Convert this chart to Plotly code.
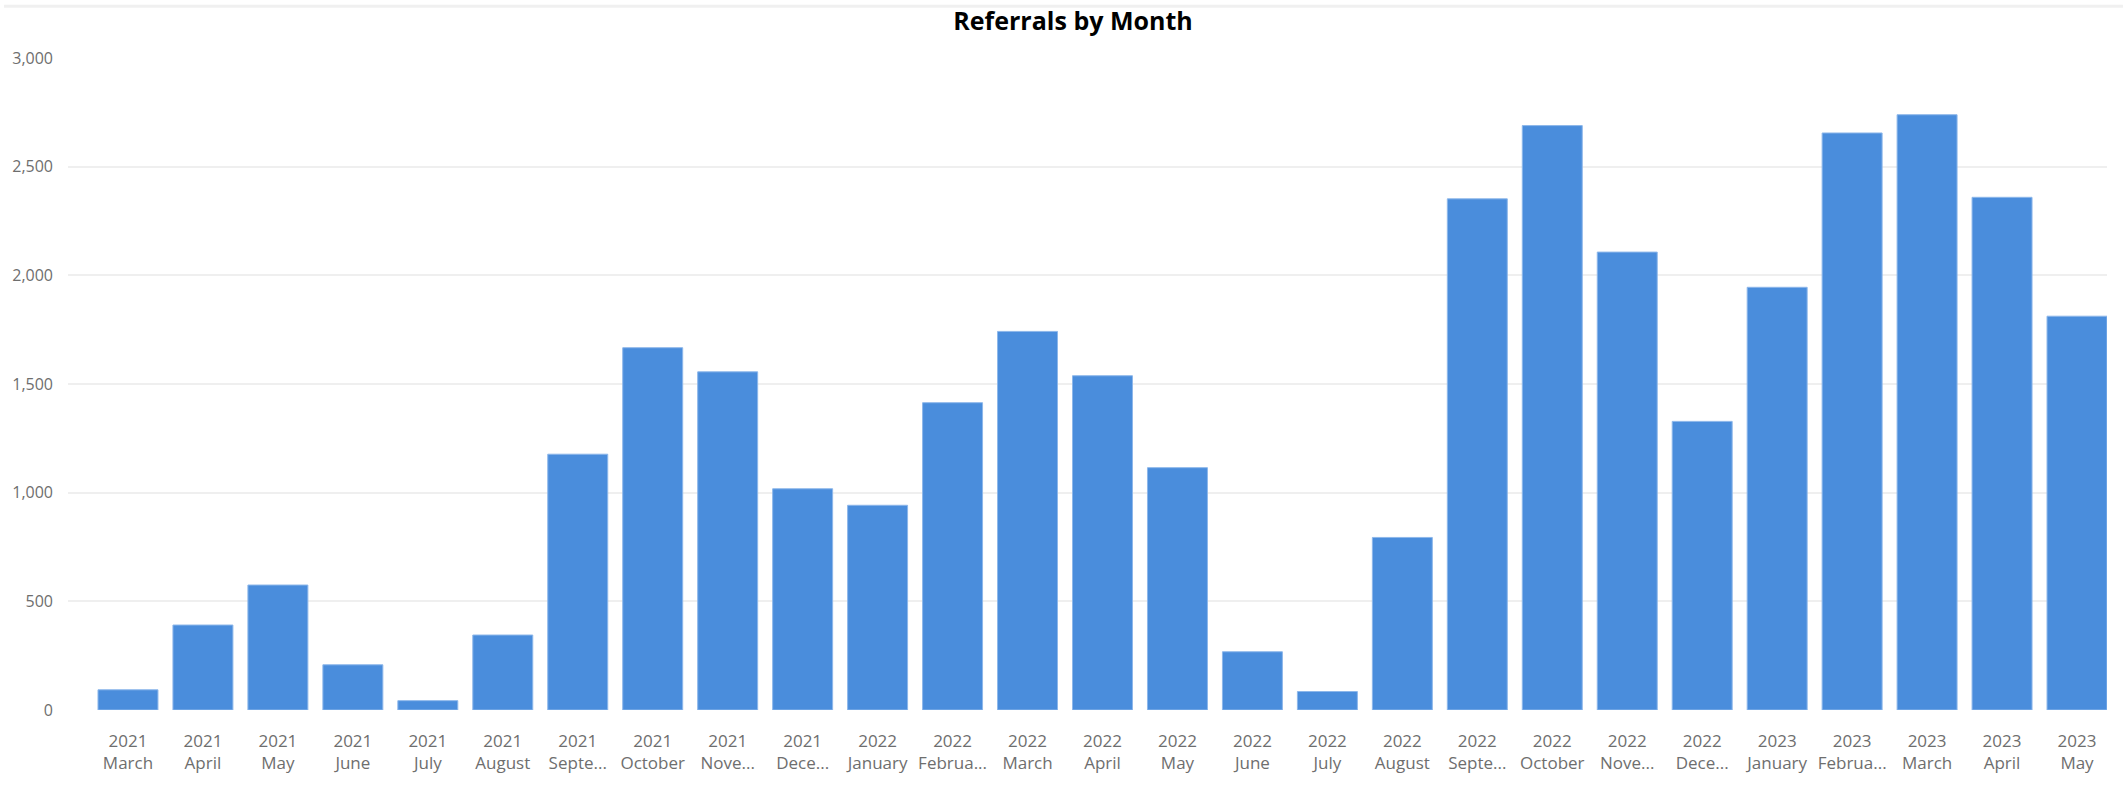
import plotly.graph_objects as go

years = ["2021"] * 10 + ["2022"] * 12 + ["2023"] * 5
months = ["March", "April", "May", "June", "July", "August", "Septe...", "October", "Nove...", "Dece...",
          "January", "Februa...", "March", "April", "May", "June", "July", "August", "Septe...", "October", "Nove...", "Dece...",
          "January", "Februa...", "March", "April", "May"]
referrals = [93, 391, 575, 208, 43, 345, 1177, 1667, 1556, 1018,
             942, 1414, 1742, 1538, 1115, 268, 85, 794, 2352, 2689, 2107, 1328,
             1945, 2655, 2739, 2359, 1812]
y_ticks = [0, 500, 1000, 1500, 2000, 2500, 3000]
y_tick_text = ["0", "500", "1,000", "1,500", "2,000", "2,500", "3,000"]

tick_labels = [f"{y}<br>{m}" for y, m in zip(years, months)]
x_pos = list(range(len(referrals)))

W, H = 2126, 786
ML, MR, MT, MB = 67, 19, 58, 74

fig = go.Figure(go.Bar(
    x=x_pos, y=referrals,
    marker=dict(color="#4A8DDC", line=dict(color="#8DB7EA", width=1)),
    width=0.8,
    hoverinfo="x+y",
))

tick_font = dict(family="Open Sans, Segoe UI, sans-serif", size=17, color="#6E6E6E")
ytick_font = dict(family="Open Sans, Segoe UI, sans-serif", size=16, color="#6E6E6E")

fig.update_layout(
    width=W, height=H,
    margin=dict(l=ML, r=MR, t=MT, b=MB, pad=0),
    paper_bgcolor="white", plot_bgcolor="white",
    showlegend=False,
    title=dict(text="Referrals by Month", xref="container", x=1073 / W, xanchor="center",
               yref="container", y=1 - 21 / H, yanchor="middle",
               font=dict(family="Open Sans, Segoe UI, sans-serif", size=25, color="#000000", weight="bold")),
    xaxis=dict(range=[-0.8, 26.4], tickmode="array", tickvals=x_pos, ticktext=tick_labels,
               showgrid=False, zeroline=False, showline=False, ticks="", tickfont=tick_font,
               ticklabelstandoff=19, fixedrange=True),
    yaxis=dict(range=[0, 3000], tickmode="array", tickvals=y_ticks, ticktext=y_tick_text,
               showgrid=True, gridcolor="#EFEFEF", gridwidth=2, zeroline=False,
               showline=False, ticks="", tickfont=ytick_font, ticklabelstandoff=14, fixedrange=True),
)

# faint top border line
plot_h = H - MT - MB
plot_w = W - ML - MR
fig.add_shape(type="line", xref="paper", yref="paper",
              x0=-(ML - 3) / plot_w, x1=1 + (MR - 3) / plot_w,
              y0=1 + (MT - 6) / plot_h, y1=1 + (MT - 6) / plot_h,
              line=dict(color="#F0F0F0", width=3), layer="below")

fig.write_html("out.html", config={"displayModeBar": False},
               post_script="document.body.style.margin='0';document.body.style.overflow='hidden';")
